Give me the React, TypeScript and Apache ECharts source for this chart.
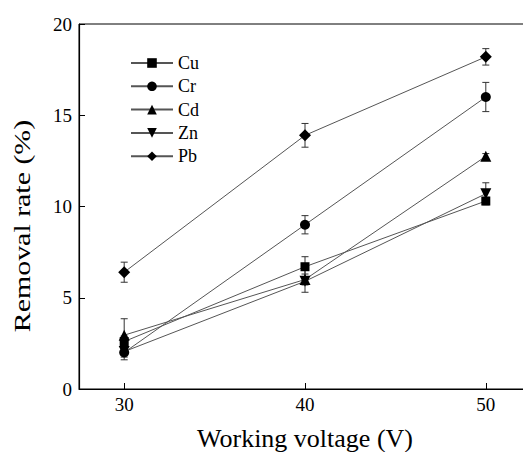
import React, { useEffect, useRef } from "react";
import * as echarts from "echarts";

const voltages = [30, 40, 50];
const seriesNames = ["Cu", "Cr", "Cd", "Zn", "Pb"];
const cu = [2.6, 6.7, 10.3];
const cr = [2.0, 9.0, 16.0];
const cd = [2.95, 6.0, 12.75];
const zn = [2.05, 5.9, 10.7];
const pb = [6.4, 13.9, 18.2];
const cuErr = [0.3, 0.55, 0.2];
const crErr = [0.4, 0.5, 0.8];
const cdErr = [0.9, 0.3, 0.15];
const znErr = [0.3, 0.6, 0.6];
const pbErr = [0.55, 0.65, 0.45];
const xTicks = [30, 40, 50];

const FONT = "'Liberation Serif', 'Times New Roman', serif";

export default function App() {
  const ref = useRef<HTMLDivElement>(null);
  useEffect(() => {
    if (!ref.current) return;
    const chart = echarts.init(ref.current, undefined, { renderer: "svg" });
    const values = [cu, cr, cd, zn, pb];
    const errs = [cuErr, crErr, cdErr, znErr, pbErr];
    const symbols = ["rect", "circle", "triangle", "triangle", "diamond"];
    const sizes = [9, 10, 11, 11, 12];
    const rotates = [0, 0, 0, 180, 0];

    const lineSeries: any[] = seriesNames.map((name, i) => ({
      name,
      type: "line",
      data: voltages.map((v, j) => [v, values[i][j]]),
      symbol: symbols[i],
      symbolSize: sizes[i],
      symbolRotate: rotates[i],
      itemStyle: { color: "#000" },
      lineStyle: { color: "#555", width: 1 },
      z: 3,
    }));

    const errSeries: any[] = seriesNames.map((name, i) => ({
      type: "custom",
      name: name + "_err",
      data: voltages.map((v, j) => [v, values[i][j] - errs[i][j], values[i][j] + errs[i][j]]),
      renderItem: (params: any, api: any) => {
        const lo = api.coord([api.value(0), api.value(1)]);
        const hi = api.coord([api.value(0), api.value(2)]);
        const w = 3.5;
        const st = { stroke: "#333", lineWidth: 1 };
        return {
          type: "group",
          children: [
            { type: "line", shape: { x1: lo[0], y1: lo[1], x2: hi[0], y2: hi[1] }, style: st },
            { type: "line", shape: { x1: lo[0] - w, y1: lo[1], x2: lo[0] + w, y2: lo[1] }, style: st },
            { type: "line", shape: { x1: hi[0] - w, y1: hi[1], x2: hi[0] + w, y2: hi[1] }, style: st },
          ],
        };
      },
      z: 2,
      silent: true,
    }));

    chart.setOption({
      animation: false,
      backgroundColor: "#fff",
      grid: {
        left: 79,
        top: 24,
        bottom: 63,
        right: 0,
        show: true,
        borderColor: "#000",
        borderWidth: 1,
        containLabel: false,
        outerBoundsMode: "none",
      },
      legend: {
        data: seriesNames,
        orient: "vertical",
        left: 130,
        top: 54,
        padding: 0,
        itemWidth: 42,
        itemHeight: 12,
        itemGap: 5.3,
        textStyle: { fontFamily: FONT, fontSize: 18, lineHeight: 18, color: "#000" },
        selectedMode: false,
      },
      xAxis: {
        type: "value",
        min: 27.5,
        max: 52.5,
        axisLine: { lineStyle: { color: "#000", width: 1.2 } },
        axisTick: { inside: true, length: 6, customValues: xTicks, lineStyle: { color: "#000" } },
        axisLabel: { customValues: xTicks, fontFamily: FONT, fontSize: 19, color: "#000", margin: 6 },
        splitLine: { show: false },
        name: "Working voltage (V)",
        nameLocation: "middle",
        nameGap: 36,
        nameTextStyle: { fontFamily: FONT, fontSize: 26, color: "#000" },
      },
      yAxis: {
        type: "value",
        min: 0,
        max: 20,
        interval: 5,
        axisLine: { show: true, lineStyle: { color: "#000", width: 1.2 } },
        axisTick: { show: true, inside: true, length: 6, lineStyle: { color: "#000" } },
        axisLabel: { fontFamily: FONT, fontSize: 19, color: "#000", margin: 7 },
        splitLine: { show: false },
      },
      graphic: [
        {
          type: "text",
          x: 22,
          y: 226,
          rotation: Math.PI / 2,
          scaleX: 1.3,
          style: { text: "Removal rate (%)", fontFamily: FONT, fontSize: 23, fill: "#000", align: "center", verticalAlign: "middle" },
        },
      ],
      series: [...errSeries, ...lineSeries],
    });
    return () => chart.dispose();
  }, []);
  return (
    <div style={{ position: "absolute", left: 0, top: 0, width: 523, height: 452, overflow: "hidden" }}>
      <div ref={ref} style={{ width: 531, height: 452 }} />
    </div>
  );
}
